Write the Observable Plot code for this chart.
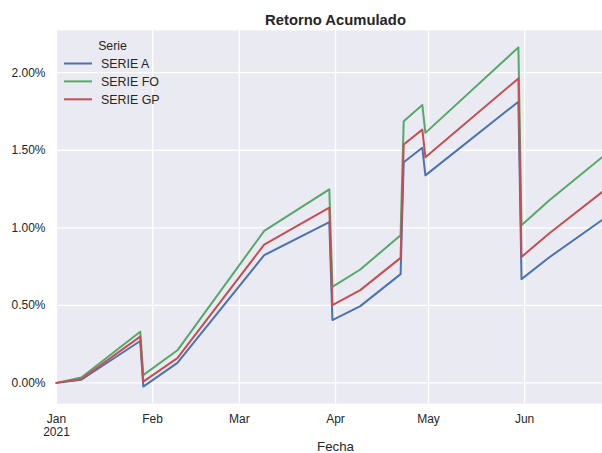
<!DOCTYPE html>
<html><head><meta charset="utf-8">
<script src="https://cdn.jsdelivr.net/npm/d3@7"></script>
<script src="https://cdn.jsdelivr.net/npm/@observablehq/plot@0.6"></script>
<style>
html,body{margin:0;padding:0;background:#fff;overflow:hidden;}
</style></head><body><div id="chart"></div>
<script>
const dates = ["2021-01-01","2021-01-09","2021-01-28","2021-01-29","2021-02-09","2021-03-09","2021-03-30","2021-03-31","2021-04-09","2021-04-22","2021-04-23","2021-04-29","2021-04-30","2021-05-30","2021-05-31","2021-06-09","2021-06-26"];
const serieA  = [0.000,0.020,0.270,-0.024,0.129,0.823,1.037,0.405,0.495,0.701,1.423,1.516,1.338,1.813,0.669,0.810,1.050];
const serieFO = [0.000,0.035,0.330,0.050,0.210,0.980,1.248,0.619,0.731,0.952,1.687,1.792,1.612,2.163,1.016,1.177,1.455];
const serieGP = [0.000,0.025,0.298,0.008,0.160,0.892,1.130,0.502,0.598,0.806,1.537,1.633,1.455,1.963,0.812,0.965,1.230];
const seriesNames = ["SERIE A","SERIE FO","SERIE GP"];
const colors = ["#4C72B0","#55A868","#C44E52"];
const yTicks = [0, 0.5, 1, 1.5, 2];
const xTickDates = ["2021-01-01","2021-02-01","2021-03-01","2021-04-01","2021-05-01","2021-06-01"];
const xTickLabels = ["Jan\n2021","Feb","Mar","Apr","May","Jun"];
const xDomain = ["2021-01-01","2021-06-30"];
const yDomain = [-0.133, 2.272];
const titleText = "Retorno Acumulado";
const xLabel = "Fecha";
const legendTitle = "Serie";

const values = [serieA, serieFO, serieGP];
const data = [];
seriesNames.forEach((s, k) => dates.forEach((d, i) => data.push({serie: s, date: new Date(d), value: values[k][i]})));
const tickMap = new Map(xTickDates.map((d, i) => [d, xTickLabels[i]]));
const font = "'Liberation Sans', Arial, Helvetica, sans-serif";

const plot = Plot.plot({
  width: 602, height: 453,
  marginLeft: 56, marginRight: -12, marginTop: 30, marginBottom: 50,
  style: {fontFamily: font, fontSize: "12px", color: "#262626", background: "white"},
  x: {type: "utc", domain: xDomain.map(d => new Date(d))},
  y: {domain: yDomain},
  color: {domain: seriesNames, range: colors},
  marks: [
    Plot.frame({fill: "#EAEAF2", stroke: null}),
    Plot.gridX(xTickDates.map(d => new Date(d)), {stroke: "white", strokeOpacity: 1, strokeWidth: 1.3}),
    Plot.gridY(yTicks, {stroke: "white", strokeOpacity: 1, strokeWidth: 1.3}),
    Plot.line(data, {x: "date", y: "value", z: "serie", stroke: "serie", strokeWidth: 2}),
    Plot.axisX(xTickDates.map(d => new Date(d)), {tickSize: 0, tickPadding: 10, label: null, fontSize: 12, lineHeight: 1.08,
      tickFormat: d => tickMap.get(d.toISOString().slice(0, 10))}),
    Plot.axisY(yTicks, {tickSize: 0, tickPadding: 11, label: null, fontSize: 12, tickFormat: d => d.toFixed(2) + "%"}),
    Plot.text([titleText], {frameAnchor: "top", dy: -16, fontWeight: "bold", fontSize: 14.8, fill: "#262626"}),
    Plot.text([xLabel], {frameAnchor: "bottom", dy: 47, fontSize: 13.3, fill: "#262626"})
  ]
});

// legend
const svg = d3.select(plot);
const lg = svg.append("g").attr("font-family", font).attr("fill", "#262626");
lg.append("text").attr("x", 112.5).attr("y", 46).attr("text-anchor", "middle").attr("dy", "0.35em").attr("font-size", 12.3).text(legendTitle);
seriesNames.forEach((s, i) => {
  const yy = 63.5 + i * 17.9;
  lg.append("line").attr("x1", 64).attr("x2", 92).attr("y1", yy).attr("y2", yy).attr("stroke", colors[i]).attr("stroke-width", 2);
  lg.append("text").attr("x", 101).attr("y", yy).attr("dy", "0.35em").attr("text-anchor", "start").attr("font-size", 12.4).text(s);
});
document.getElementById("chart").appendChild(plot);
</script></body></html>
